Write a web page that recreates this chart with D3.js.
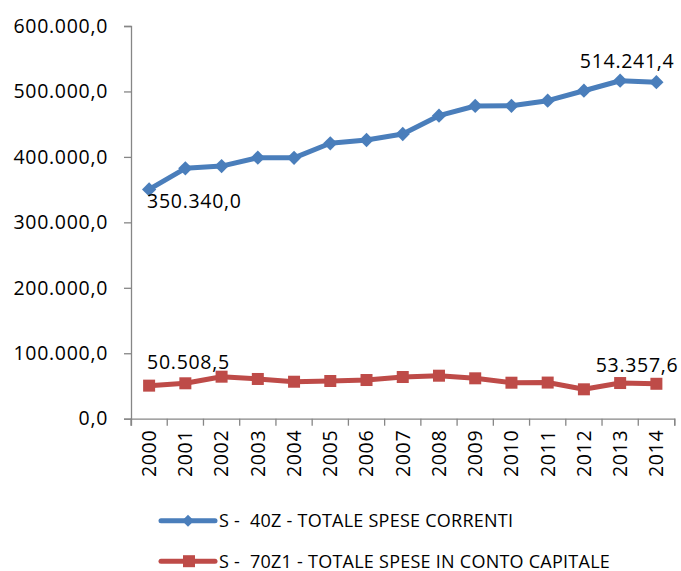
<!DOCTYPE html>
<html>
<head>
<meta charset="utf-8">
<script src="https://cdn.jsdelivr.net/npm/d3@7"></script>
<style>
	body { margin: 0; background: #fff; }
	text { font-family: "Open Sans", sans-serif; font-size: 19.5px; fill: #000; letter-spacing: 0.7px; }
	.legend text { white-space: pre; font-size: 18px; letter-spacing: 0.25px; }
</style>
</head>
<body>
<svg id="chart" width="681" height="571"></svg>
<script>
var years = ['2000','2001','2002','2003','2004','2005','2006','2007','2008','2009','2010','2011','2012','2013','2014'];
var correnti = [350340.0, 382600, 386000, 398800, 398600, 420800, 425800, 435000, 463000, 477800, 478000, 485900, 501100, 516400, 514241.4];
var capitale = [50508.5, 54100, 64200, 60700, 56500, 57600, 59100, 63700, 65700, 61700, 55000, 55200, 44900, 54500, 53357.6];
var yTicks = [0, 100000, 200000, 300000, 400000, 500000, 600000];
var seriesNames = ['S -  40Z - TOTALE SPESE CORRENTI', 'S -  70Z1 - TOTALE SPESE IN CONTO CAPITALE'];

var it = d3.formatLocale({decimal: ',', thousands: '.', grouping: [3], currency: ['', '€']});
var fmt = it.format(',.1f');

var svg = d3.select('#chart');
var margin = {left: 131, right: 6.5, top: 26, bottom: 152.3};
var w = 681 - margin.left - margin.right;
var h = 571 - margin.top - margin.bottom;

var x = d3.scaleBand().domain(years).range([0, w]);
var y = d3.scaleLinear().domain([0, 600000]).range([h, 0]);

var g = svg.append('g').attr('transform', 'translate(' + margin.left + ',' + margin.top + ')');

// axes
var yAxis = g.append('g')
	.call(d3.axisLeft(y).tickValues(yTicks).tickFormat(fmt).tickSize(7).tickPadding(16));
var xAxis = g.append('g')
	.attr('transform', 'translate(0,' + h + ')')
	.call(d3.axisBottom(x).tickSize(7).tickPadding(0).tickFormat(function(d){ return d }));
xAxis.selectAll('.tick line').attr('transform', 'translate(' + (-x.bandwidth() / 2) + ',0)');
xAxis.append('line')
	.attr('x1', w).attr('x2', w).attr('y1', 0).attr('y2', 7)
	.attr('stroke', '#868686');
xAxis.selectAll('.tick text')
	.attr('transform', 'rotate(-90)')
	.attr('text-anchor', 'end')
	.attr('x', -11).attr('y', 0).attr('dy', '0.35em');
svg.selectAll('.domain, .tick line').attr('stroke', '#868686').attr('stroke-width', 1.3);
svg.selectAll('.tick text').attr('font-size', null).attr('font-family', null).attr('fill', '#000');

var cx = function(d, i){ return x(years[i]) + x.bandwidth() / 2 };
var line = d3.line().x(cx).y(function(d){ return y(d) });

// blue series
g.append('path').datum(correnti)
	.attr('d', line).attr('fill', 'none')
	.attr('stroke', '#4A7EBB').attr('stroke-width', 5).attr('stroke-linejoin', 'round');
g.selectAll('.diamond').data(correnti).enter()
	.append('path').attr('class', 'diamond')
	.attr('d', d3.symbol(d3.symbolDiamond2, 130))
	.attr('transform', function(d, i){ return 'translate(' + cx(d, i) + ',' + y(d) + ')' })
	.attr('fill', '#4A7EBB');

// red series
g.append('path').datum(capitale)
	.attr('d', line).attr('fill', 'none')
	.attr('stroke', '#BE4B48').attr('stroke-width', 5).attr('stroke-linejoin', 'round');
g.selectAll('.square').data(capitale).enter()
	.append('rect').attr('class', 'square')
	.attr('x', function(d, i){ return cx(d, i) - 6 })
	.attr('y', function(d){ return y(d) - 6 })
	.attr('width', 12).attr('height', 12)
	.attr('fill', '#BE4B48');

// data labels on first and last points
var last = years.length - 1;
g.append('text').attr('x', cx(0, 0) - 2).attr('y', y(correnti[0]) + 19).text(fmt(correnti[0]));
g.append('text').attr('x', cx(0, last) + 18).attr('y', y(correnti[last]) - 14)
	.attr('text-anchor', 'end').text(fmt(correnti[last]));
g.append('text').attr('x', cx(0, 0) - 2).attr('y', y(capitale[0]) - 17).text(fmt(capitale[0]));
g.append('text').attr('x', cx(0, last) + 22).attr('y', y(capitale[last]) - 12)
	.attr('text-anchor', 'end').text(fmt(capitale[last]));

// legend
var legend = svg.append('g').attr('class', 'legend');
var colors = ['#4A7EBB', '#BE4B48'];
seriesNames.forEach(function(name, i){
	var ly = 520.7 + i * 40.5;
	var lg = legend.append('g').attr('transform', 'translate(0,' + ly + ')');
	lg.append('line').attr('x1', 161).attr('x2', 215).attr('y1', 0).attr('y2', 0)
		.attr('stroke', colors[i]).attr('stroke-width', 5).attr('stroke-linecap', 'round');
	if (i == 0) {
		lg.append('path').attr('d', d3.symbol(d3.symbolDiamond2, 90))
			.attr('transform', 'translate(188,0)').attr('fill', colors[i]);
	} else {
		lg.append('rect').attr('x', 183).attr('y', -6).attr('width', 12).attr('height', 12)
			.attr('fill', colors[i]);
	}
	lg.append('text').attr('x', 219).attr('y', 0).attr('dy', '0.35em').text(name);
});
</script>
</body>
</html>
